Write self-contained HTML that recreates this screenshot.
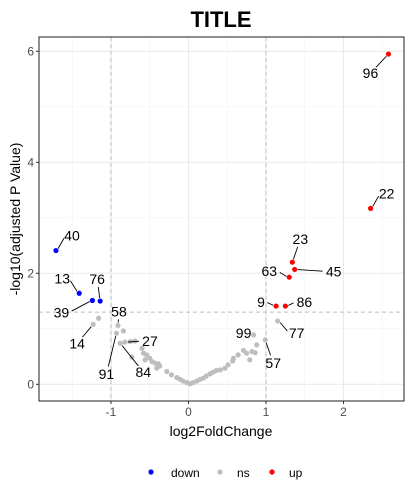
<!DOCTYPE html>
<html><head><meta charset="utf-8"><style>
body{margin:0;background:#fff;}
svg{display:block;font-family:"Liberation Sans",Arial,sans-serif;}
</style></head><body>
<svg id="chart" width="412" height="498"></svg>
<script>
const xTicks=[-1,0,1,2];
const yTicks=[0,2,4,6];
const xMinor=[-1.5,-0.5,0.5,1.5,2.5];
const yMinor=[1,3,5];
const downX=[-1.71,-1.41,-1.24,-1.14];
const downY=[2.41,1.64,1.51,1.50];
const downLab=["40","13","39","76"];
const upX=[2.58,2.35,1.34,1.37,1.30,1.13,1.25];
const upY=[5.95,3.17,2.20,2.07,1.93,1.41,1.41];
const upLab=["96","22","23","45","63","9","86"];
const nsX=[-1.16,-1.23,-0.91,1.15,-0.93,-0.84,-0.88,-0.82,-0.75,-0.69,-0.60,-0.58,-0.73,-0.54,-0.50,-0.56,-0.47,-0.43,-0.39,-0.37,-0.41,-0.28,-0.22,-0.15,-0.11,-0.07,-0.02,0.02,0.06,0.11,0.15,0.19,0.23,0.28,0.32,0.36,0.41,0.47,0.51,0.57,0.58,0.64,0.71,0.75,0.79,0.82,0.86,0.84,0.88,0.99];
const nsY=[1.19,1.08,1.06,1.14,0.92,0.96,0.74,0.76,0.77,0.78,0.65,0.56,0.49,0.53,0.47,0.44,0.41,0.38,0.37,0.33,0.29,0.23,0.17,0.12,0.09,0.06,0.03,0.01,0.03,0.06,0.09,0.11,0.15,0.19,0.22,0.25,0.26,0.29,0.35,0.42,0.47,0.53,0.61,0.56,0.44,0.59,0.57,0.89,0.71,0.80];
const nsLab=["","14","58","77","91","","84","27","","","","","","","","","","","","","","","","","","","","","","","","","","","","","","","","","","","","","","","","99","","57"];
const off={"40":[16,-15],"13":[-17,-15],"39":[-31,12],"76":[-3,-22],"96":[-18,19],"22":[16,-15],"23":[8,-23],"45":[39,2],"63":[-20,-6],"9":[-15,-4],"86":[19,-4],"14":[-16,19],"58":[1,-14],"77":[19,12],"91":[-10,41],"84":[23,29],"27":[25,-1],"99":[-10,-2],"57":[8,23]};
const L=39,R=404,T=37,B=401;
const X=v=>188.5+v*77.5, Y=v=>384.3-v*55.5;
const svg=document.getElementById('chart');const NS='http://www.w3.org/2000/svg';
function mk(t,a,p){const e=document.createElementNS(NS,t);for(const k in a)e.setAttribute(k,a[k]);(p||svg).appendChild(e);return e;}
let e;
e=mk('rect',{x:L,y:T,width:R-L,height:B-T,fill:'#fff'});


xMinor.forEach(v=>{e=mk('line',{x1:X(v),x2:X(v),y1:T,y2:B,stroke:'#f2f2f2','stroke-width':0.6});});
yMinor.forEach(v=>{e=mk('line',{x1:L,x2:R,y1:Y(v),y2:Y(v),stroke:'#f2f2f2','stroke-width':0.6});});
xTicks.forEach(v=>{e=mk('line',{x1:X(v),x2:X(v),y1:T,y2:B,stroke:'#ebebeb','stroke-width':1.1});
 e=mk('line',{x1:X(v),x2:X(v),y1:B,y2:B+3,stroke:'#333'});
 e=mk('text',{x:X(v),y:B+15,'text-anchor':'middle','font-size':12,fill:'#4d4d4d'});e.textContent=v;});
yTicks.forEach(v=>{e=mk('line',{x1:L,x2:R,y1:Y(v),y2:Y(v),stroke:'#ebebeb','stroke-width':1.1});
 e=mk('line',{x1:L-3,x2:L,y1:Y(v),y2:Y(v),stroke:'#333'});
 e=mk('text',{x:L-5,y:Y(v)+4,'text-anchor':'end','font-size':12,fill:'#4d4d4d'});e.textContent=v;});
[-1,1].forEach(v=>{e=mk('line',{x1:X(v),x2:X(v),y1:T,y2:B,stroke:'#bdbdbd','stroke-dasharray':'4,3'});});
e=mk('line',{x1:L,x2:R,y1:Y(1.3),y2:Y(1.3),stroke:'#bdbdbd','stroke-dasharray':'4,3'});
function series(xs,ys,labs,col,name){
 xs.forEach((v,i)=>{const cx=X(v),cy=Y(ys[i]);
  e=mk('circle',{cx:cx,cy:cy,r:2.6,fill:col});});
 xs.forEach((v,i)=>{const lb=labs[i];if(!lb)return;const cx=X(v),cy=Y(ys[i]);const o=off[lb];const tx=cx+o[0],ty=cy+o[1];
  const d=Math.hypot(o[0],o[1]);const r0=3;
  const ux=o[0]/d,uy=o[1]/d;
  if(d>12){e=mk('line',{x1:cx+ux*r0,y1:cy+uy*r0,x2:tx-ux*(Math.abs(ux)>0.7?lb.length*4.5+2:8),y2:ty-uy*(Math.abs(ux)>0.7?lb.length*2:8),stroke:'#000','stroke-width':0.9});}
  e=mk('text',{x:tx,y:ty+5,'text-anchor':'middle','font-size':14,fill:'#000'});e.textContent=lb;});
}
series(nsX,nsY,nsLab,'#bebebe','ns');
series(downX,downY,downLab,'#0000ff','down');
series(upX,upY,upLab,'#ff0000','up');
e=mk('rect',{x:L,y:T,width:R-L,height:B-T,fill:'none',stroke:'#333','stroke-width':1.1});
e=mk('text',{x:221,y:27,'text-anchor':'middle','font-size':22,'font-weight':'bold'});e.textContent='TITLE';
e=mk('text',{x:221,y:436,'text-anchor':'middle','font-size':14});e.textContent='log2FoldChange';
e=mk('text',{x:20,y:219,'text-anchor':'middle','font-size':14,transform:'rotate(-90 20 219)'});e.textContent='-log10(adjusted P Value)';
[['down','#0000ff',151,171],['ns','#bebebe',220,237],['up','#ff0000',272,289]].forEach(a=>{
 const g=mk('g',{});
 e=mk('circle',{cx:a[2],cy:472,r:2.6,fill:a[1]},g);
 e=mk('text',{x:a[3],y:477,'font-size':12},g);e.textContent=a[0];});
</script>
</body></html>
